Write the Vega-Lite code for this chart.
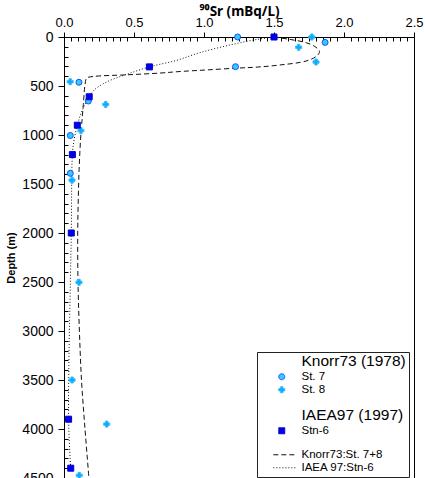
{
  "$schema": "https://vega.github.io/schema/vega-lite/v6.json",
  "width": 350,
  "height": 441,
  "autosize": "none",
  "padding": {"left": 64, "top": 37, "right": 11, "bottom": 0},
  "datasets": {
    "fits": [
      {"series": "Knorr73:St. 7+8", "sr": 1.5, "depth": 0},
      {"series": "Knorr73:St. 7+8", "sr": 1.61, "depth": 24},
      {"series": "Knorr73:St. 7+8", "sr": 1.73, "depth": 58},
      {"series": "Knorr73:St. 7+8", "sr": 1.8, "depth": 105},
      {"series": "Knorr73:St. 7+8", "sr": 1.825, "depth": 150},
      {"series": "Knorr73:St. 7+8", "sr": 1.805, "depth": 194},
      {"series": "Knorr73:St. 7+8", "sr": 1.73, "depth": 245},
      {"series": "Knorr73:St. 7+8", "sr": 1.54, "depth": 286},
      {"series": "Knorr73:St. 7+8", "sr": 1.38, "depth": 307},
      {"series": "Knorr73:St. 7+8", "sr": 1.23, "depth": 318},
      {"series": "Knorr73:St. 7+8", "sr": 1.02, "depth": 336},
      {"series": "Knorr73:St. 7+8", "sr": 0.83, "depth": 352},
      {"series": "Knorr73:St. 7+8", "sr": 0.686, "depth": 368},
      {"series": "Knorr73:St. 7+8", "sr": 0.45, "depth": 386},
      {"series": "Knorr73:St. 7+8", "sr": 0.21, "depth": 403},
      {"series": "Knorr73:St. 7+8", "sr": 0.162, "depth": 420},
      {"series": "Knorr73:St. 7+8", "sr": 0.15, "depth": 490},
      {"series": "Knorr73:St. 7+8", "sr": 0.138, "depth": 690},
      {"series": "Knorr73:St. 7+8", "sr": 0.127, "depth": 880},
      {"series": "Knorr73:St. 7+8", "sr": 0.118, "depth": 1050},
      {"series": "Knorr73:St. 7+8", "sr": 0.108, "depth": 1350},
      {"series": "Knorr73:St. 7+8", "sr": 0.102, "depth": 1650},
      {"series": "Knorr73:St. 7+8", "sr": 0.098, "depth": 2000},
      {"series": "Knorr73:St. 7+8", "sr": 0.1, "depth": 2500},
      {"series": "Knorr73:St. 7+8", "sr": 0.11, "depth": 3000},
      {"series": "Knorr73:St. 7+8", "sr": 0.125, "depth": 3500},
      {"series": "Knorr73:St. 7+8", "sr": 0.15, "depth": 4000},
      {"series": "Knorr73:St. 7+8", "sr": 0.178, "depth": 4500},
      {"series": "IAEA 97:Stn-6", "sr": 1.5, "depth": 0},
      {"series": "IAEA 97:Stn-6", "sr": 1.38, "depth": 24},
      {"series": "IAEA 97:Stn-6", "sr": 1.19, "depth": 80},
      {"series": "IAEA 97:Stn-6", "sr": 0.97, "depth": 160},
      {"series": "IAEA 97:Stn-6", "sr": 0.8, "depth": 240},
      {"series": "IAEA 97:Stn-6", "sr": 0.61, "depth": 305},
      {"series": "IAEA 97:Stn-6", "sr": 0.45, "depth": 380},
      {"series": "IAEA 97:Stn-6", "sr": 0.31, "depth": 455},
      {"series": "IAEA 97:Stn-6", "sr": 0.22, "depth": 535},
      {"series": "IAEA 97:Stn-6", "sr": 0.18, "depth": 610},
      {"series": "IAEA 97:Stn-6", "sr": 0.13, "depth": 750},
      {"series": "IAEA 97:Stn-6", "sr": 0.095, "depth": 900},
      {"series": "IAEA 97:Stn-6", "sr": 0.072, "depth": 1050},
      {"series": "IAEA 97:Stn-6", "sr": 0.06, "depth": 1200},
      {"series": "IAEA 97:Stn-6", "sr": 0.052, "depth": 2000},
      {"series": "IAEA 97:Stn-6", "sr": 0.033, "depth": 3900},
      {"series": "IAEA 97:Stn-6", "sr": 0.048, "depth": 4400}
    ],
    "points": [
      {"series": "St. 7", "sr": 1.24, "depth": 0},
      {"series": "St. 7", "sr": 1.865, "depth": 55},
      {"series": "St. 7", "sr": 1.225, "depth": 303},
      {"series": "St. 7", "sr": 0.107, "depth": 462},
      {"series": "St. 7", "sr": 0.174, "depth": 653},
      {"series": "St. 7", "sr": 0.045, "depth": 1005},
      {"series": "St. 7", "sr": 0.045, "depth": 1391},
      {"series": "St. 8", "sr": 1.77, "depth": 0},
      {"series": "St. 8", "sr": 1.676, "depth": 105},
      {"series": "St. 8", "sr": 1.8, "depth": 255},
      {"series": "St. 8", "sr": 0.044, "depth": 456},
      {"series": "St. 8", "sr": 0.298, "depth": 688},
      {"series": "St. 8", "sr": 0.121, "depth": 955},
      {"series": "St. 8", "sr": 0.057, "depth": 1461},
      {"series": "St. 8", "sr": 0.107, "depth": 2503},
      {"series": "St. 8", "sr": 0.058, "depth": 3500},
      {"series": "St. 8", "sr": 0.305, "depth": 3950},
      {"series": "St. 8", "sr": 0.109, "depth": 4473},
      {"series": "Stn-6", "sr": 1.5, "depth": 0},
      {"series": "Stn-6", "sr": 0.61, "depth": 305},
      {"series": "Stn-6", "sr": 0.18, "depth": 610},
      {"series": "Stn-6", "sr": 0.095, "depth": 900},
      {"series": "Stn-6", "sr": 0.06, "depth": 1200},
      {"series": "Stn-6", "sr": 0.052, "depth": 2000},
      {"series": "Stn-6", "sr": 0.033, "depth": 3900},
      {"series": "Stn-6", "sr": 0.048, "depth": 4400}
    ]
  },
  "encoding": {
    "x": {
      "field": "sr",
      "type": "quantitative",
      "scale": {"domain": [0, 2.5], "nice": false, "zero": false},
      "axis": {
        "orient": "top",
        "title": "⁹⁰Sr (mBq/L)",
        "titleFont": "Noto Sans",
        "values": [0, 0.05, 0.1, 0.15, 0.2, 0.25, 0.3, 0.35, 0.4, 0.45, 0.5, 0.55, 0.6, 0.65, 0.7, 0.75, 0.8, 0.85, 0.9, 0.95, 1, 1.05, 1.1, 1.15, 1.2, 1.25, 1.3, 1.35, 1.4, 1.45, 1.5, 1.55, 1.6, 1.65, 1.7, 1.75, 1.8, 1.85, 1.9, 1.95, 2, 2.05, 2.1, 2.15, 2.2, 2.25, 2.3, 2.35, 2.4, 2.45, 2.5],
        "labelExpr": "abs(round(datum.value * 2) - datum.value * 2) < 1e-6 ? format(datum.value, '.1f') : ''",
        "labelOverlap": false,
        "labelFlush": false,
        "labelFontSize": 13,
        "labelPadding": 3,
        "tickSize": {"condition": {"test": "abs(round(datum.value * 2) - datum.value * 2) < 1e-6", "value": 5}, "value": -4},
        "titleFontSize": 13.5,
        "titlePadding": -2
      }
    },
    "y": {
      "field": "depth",
      "type": "quantitative",
      "scale": {"domain": [0, 4500], "reverse": true, "nice": false, "zero": false},
      "axis": {
        "orient": "left",
        "title": "Depth (m)",
        "values": [0, 100, 200, 300, 400, 500, 600, 700, 800, 900, 1000, 1100, 1200, 1300, 1400, 1500, 1600, 1700, 1800, 1900, 2000, 2100, 2200, 2300, 2400, 2500, 2600, 2700, 2800, 2900, 3000, 3100, 3200, 3300, 3400, 3500, 3600, 3700, 3800, 3900, 4000, 4100, 4200, 4300, 4400, 4500],
        "labelExpr": "datum.value % 500 === 0 ? format(datum.value, 'd') : ''",
        "labelOverlap": false,
        "labelFontSize": 14,
        "labelPadding": 5,
        "tickSize": {"condition": {"test": "datum.value % 500 === 0", "value": 6}, "value": -4},
        "titleFontSize": 11,
        "titlePadding": 5
      }
    }
  },
  "layer": [
    {
      "data": {"name": "fits"},
      "mark": {"type": "line", "interpolate": "catmull-rom", "stroke": "#111111", "strokeWidth": 1},
      "encoding": {
        "order": {"field": "depth", "type": "quantitative"},
        "strokeDash": {
          "field": "series",
          "type": "nominal",
          "scale": {
            "domain": ["Knorr73 (1978)", "St. 7", "St. 8", " ", "IAEA97 (1997)", "Stn-6", "  ", "Knorr73:St. 7+8", "IAEA 97:Stn-6"],
            "range": [[1, 0], [1, 0], [1, 0], [1, 0], [1, 0], [1, 0], [1, 0], [5, 3], [1, 2]]
          },
          "legend": {"title": null}
        }
      }
    },
    {
      "data": {"name": "points"},
      "mark": {"type": "point", "filled": true, "opacity": 1, "strokeWidth": 1},
      "encoding": {
        "shape": {
          "field": "series",
          "type": "nominal",
          "scale": {
            "domain": ["Knorr73 (1978)", "St. 7", "St. 8", " ", "IAEA97 (1997)", "Stn-6", "  ", "Knorr73:St. 7+8", "IAEA 97:Stn-6"],
            "range": ["circle", "circle", "cross", "circle", "circle", "square", "circle", "M-2.8,0H4.6", "M-2.8,0H4.6"]
          },
          "legend": {
            "title": null,
            "orient": "none",
            "legendX": 193,
            "legendY": 315,
            "strokeColor": "#222222",
            "padding": 3,
            "symbolOffset": 16,
            "labelOffset": 14,
            "rowPadding": 0,
            "symbolSize": 36,
            "symbolStrokeWidth": 1,
            "labelFont": "Liberation Sans",
            "labelColor": "#000000",
            "labelFontSize": {"expr": "indexof(['Knorr73 (1978)', 'IAEA97 (1997)'], datum.value) >= 0 ? 15.5 : (datum.value === ' ' ? 1 : (datum.value === '  ' ? 6 : 11.5))"}
          }
        },
        "fill": {
          "field": "series",
          "type": "nominal",
          "scale": {
            "domain": ["Knorr73 (1978)", "St. 7", "St. 8", " ", "IAEA97 (1997)", "Stn-6", "  ", "Knorr73:St. 7+8", "IAEA 97:Stn-6"],
            "range": ["transparent", "#33ccff", "#0aaaff", "transparent", "transparent", "#0000ee", "transparent", "transparent", "transparent"]
          },
          "legend": {"title": null}
        },
        "stroke": {
          "field": "series",
          "type": "nominal",
          "scale": {
            "domain": ["Knorr73 (1978)", "St. 7", "St. 8", " ", "IAEA97 (1997)", "Stn-6", "  ", "Knorr73:St. 7+8", "IAEA 97:Stn-6"],
            "range": ["transparent", "#1450ff", "#33bbff", "transparent", "transparent", "#0000c8", "transparent", "#111111", "#111111"]
          },
          "legend": {"title": null}
        },
        "size": {"value": 36}
      }
    }
  ],
  "config": {
    "font": "Liberation Sans",
    "view": {"stroke": "#000000", "strokeWidth": 1},
    "axis": {
      "grid": false,
      "domainColor": "#000000",
      "tickColor": "#000000",
      "labelColor": "#000000",
      "titleColor": "#000000",
      "labelFont": "Liberation Sans",
      "titleFontWeight": "bold"
    }
  }
}
